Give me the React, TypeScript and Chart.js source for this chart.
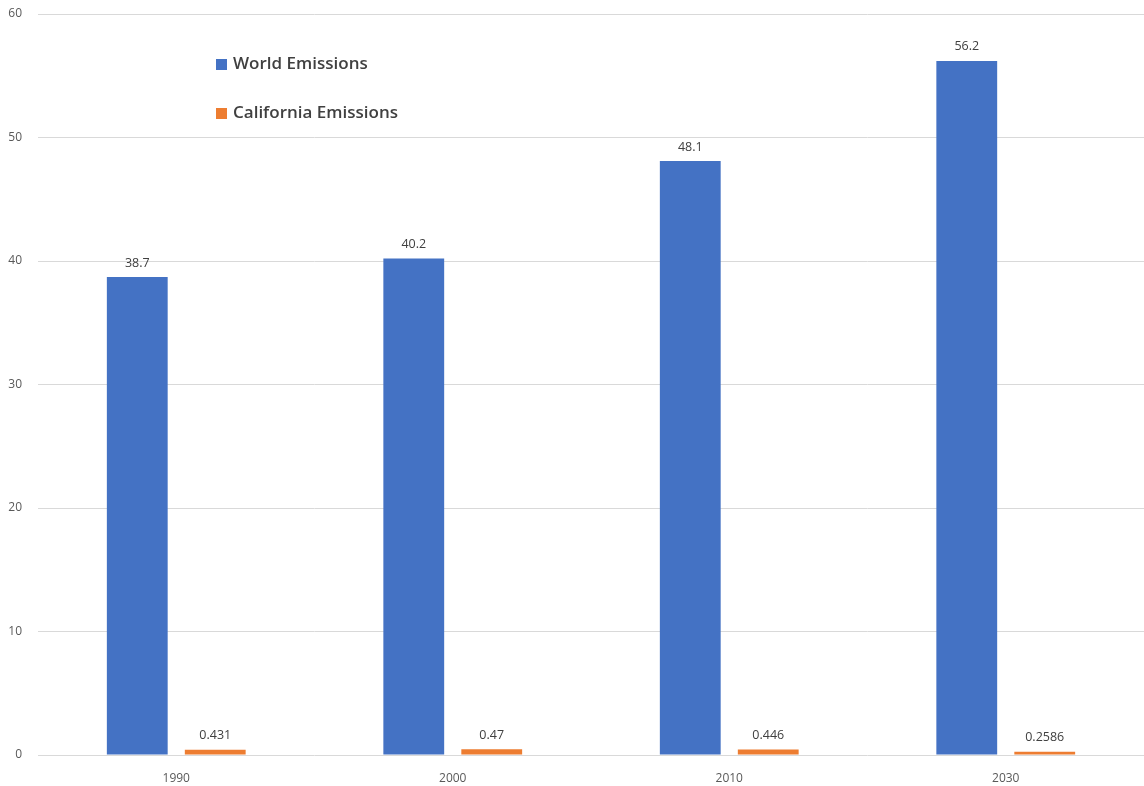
import React, { useEffect, useRef } from "react";
import { Chart, registerables } from "chart.js";

Chart.register(...registerables);

const categories = ["1990", "2000", "2010", "2030"];
const worldEmissions = [38.7, 40.2, 48.1, 56.2];
const californiaEmissions = [0.431, 0.47, 0.446, 0.2586];
const worldLabels = ["38.7", "40.2", "48.1", "56.2"];
const californiaLabels = ["0.431", "0.47", "0.446", "0.2586"];
const seriesNames = ["World Emissions", "California Emissions"];
const seriesColors = ["#4472C4", "#ED7D31"];

const FONT = "'Open Sans', 'Liberation Sans', sans-serif";

const dataLabelPlugin = {
  id: "dataLabels",
  afterDatasetsDraw(chart: any) {
    const ctx = chart.ctx;
    const labelSets = [worldLabels, californiaLabels];
    ctx.save();
    ctx.font = `12.5px ${FONT}`;
    ctx.fillStyle = "#404040";
    ctx.textAlign = "center";
    ctx.textBaseline = "middle";
    chart.data.datasets.forEach((_ds: any, di: number) => {
      const meta = chart.getDatasetMeta(di);
      meta.data.forEach((bar: any, i: number) => {
        ctx.fillText(labelSets[di][i], bar.x, bar.y - 14);
      });
    });
    ctx.restore();
  },
};

const legendPlugin = {
  id: "insideLegend",
  afterDraw(chart: any) {
    const ctx = chart.ctx;
    ctx.save();
    ctx.font = `600 17px ${FONT}`;
    ctx.textBaseline = "middle";
    ctx.textAlign = "left";
    const ys = [64, 113];
    seriesNames.forEach((name, i) => {
      ctx.fillStyle = seriesColors[i];
      ctx.fillRect(216, ys[i] - 5, 11, 11);
      ctx.fillStyle = "#404040";
      ctx.fillText(name, 233, ys[i]);
    });
    ctx.restore();
  },
};

function BarChart() {
  const ref = useRef<HTMLCanvasElement>(null);
  useEffect(() => {
    document.body.style.margin = "0";
    if (!ref.current) return;
    const chart = new Chart(ref.current, {
      type: "bar",
      data: {
        labels: categories,
        datasets: [
          {
            label: seriesNames[0],
            data: worldEmissions,
            backgroundColor: seriesColors[0],
            categoryPercentage: 0.564,
            barPercentage: 0.78,
          },
          {
            label: seriesNames[1],
            data: californiaEmissions,
            backgroundColor: seriesColors[1],
            categoryPercentage: 0.564,
            barPercentage: 0.78,
          },
        ],
      },
      options: {
        animation: false,
        responsive: false,
        maintainAspectRatio: false,
        layout: { padding: { top: 14, right: 0, bottom: 0, left: 0 } },
        plugins: {
          legend: { display: false },
          tooltip: { enabled: false },
        },
        scales: {
          x: {
            grid: { display: false, drawTicks: false },
            border: { display: false },
            ticks: {
              color: "#595959",
              font: { family: FONT, size: 12 },
              padding: 16,
            },
            afterFit: (s: any) => {
              s.height = 31;
              s.paddingLeft = 0;
              s.paddingRight = 0;
            },
          },
          y: {
            min: 0,
            max: 60,
            ticks: {
              stepSize: 10,
              color: "#595959",
              font: { family: FONT, size: 12 },
              padding: 16,
            },
            grid: { color: "#D9D9D9", drawTicks: false, lineWidth: 1 },
            border: { display: false },
            afterFit: (s: any) => {
              s.width = 38;
              s.paddingTop = 0;
              s.paddingBottom = 0;
            },
          },
        },
      },
      plugins: [dataLabelPlugin, legendPlugin],
    });
    return () => chart.destroy();
  }, []);
  return <canvas ref={ref} width={1144} height={786} style={{ display: "block" }} />;
}

export default function App() {
  return (
    <div style={{ width: 1144, height: 786, background: "#ffffff" }}>
      <BarChart />
    </div>
  );
}
